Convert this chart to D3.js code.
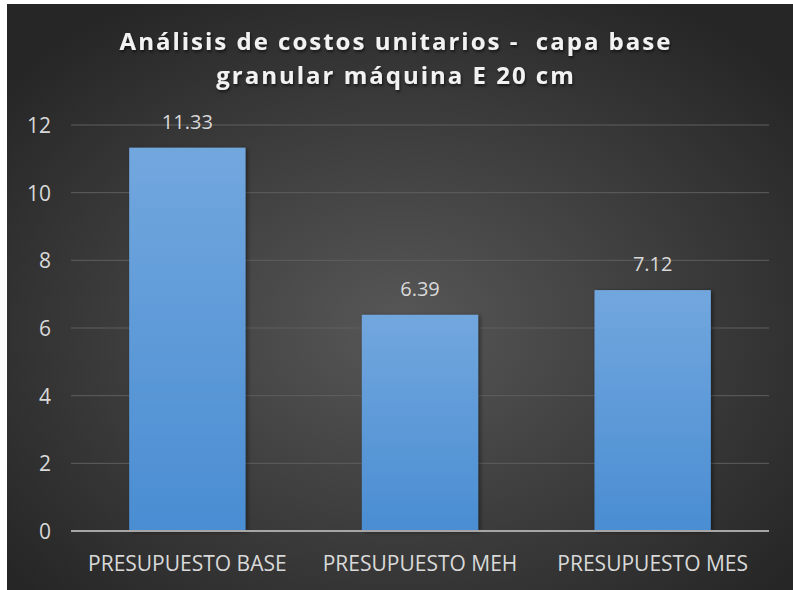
<!DOCTYPE html>
<html>
<head>
<meta charset="utf-8">
<script src="https://cdn.jsdelivr.net/npm/d3@7"></script>
<style>
  body { margin: 0; background: #fff; }
  text { font-family: "Open Sans", "Noto Sans", sans-serif; }
</style>
</head>
<body>
<div id="chart"></div>
<script>
(function(){
  var width = 793,
    height = 590;

  // data
  var categories = ["PRESUPUESTO BASE", "PRESUPUESTO MEH", "PRESUPUESTO MES"];
  var values = [11.33, 6.39, 7.12];
  var yTicks = [0, 2, 4, 6, 8, 10, 12];
  var titleLines = ["Análisis de costos unitarios -  capa base", "granular máquina E 20 cm"];

  var margin = {left: 71, right: 24, top: 125, bottom: 59};

  var svg = d3.select("#chart")
    .append("svg")
    .attr("width", width)
    .attr("height", height);

  var defs = svg.append("defs");

  // dark radial background
  var bg = defs.append("radialGradient")
    .attr("id", "bg")
    .attr("cx", "50%").attr("cy", "55%").attr("r", "65%");
  bg.append("stop").attr("offset", "0%").attr("stop-color", "#575757");
  bg.append("stop").attr("offset", "100%").attr("stop-color", "#262626");

  // bar fill, lighter at the top
  var barGrad = defs.append("linearGradient")
    .attr("id", "barGrad")
    .attr("x1", 0).attr("y1", 0).attr("x2", 0).attr("y2", 1);
  barGrad.append("stop").attr("offset", "0%").attr("stop-color", "#72a7de");
  barGrad.append("stop").attr("offset", "100%").attr("stop-color", "#4a8dd2");

  var shadow = defs.append("filter").attr("id", "shadow")
    .attr("x", "-10%").attr("y", "-10%").attr("width", "125%").attr("height", "125%");
  shadow.append("feDropShadow")
    .attr("dx", 2).attr("dy", 1).attr("stdDeviation", 2)
    .attr("flood-color", "#000").attr("flood-opacity", 0.45);

  var titleShadow = defs.append("filter").attr("id", "tshadow");
  titleShadow.append("feDropShadow")
    .attr("dx", 1).attr("dy", 2).attr("stdDeviation", 1.5)
    .attr("flood-color", "#000").attr("flood-opacity", 0.6);

  svg.append("rect")
    .attr("x", 7).attr("y", 4)
    .attr("width", width - 7).attr("height", height - 4)
    .attr("fill", "url(#bg)");

  var x = d3.scaleBand()
    .domain(categories)
    .range([margin.left, 769])
    .paddingInner(0.5)
    .paddingOuter(0.25);

  var y = d3.scaleLinear()
    .domain([0, 12])
    .range([531, 125]);

  // gridlines
  svg.append("g")
    .selectAll("line")
    .data(yTicks.filter(function(d){ return d > 0; }))
    .enter().append("line")
    .attr("x1", margin.left).attr("x2", 769)
    .attr("y1", function(d){ return y(d); })
    .attr("y2", function(d){ return y(d); })
    .attr("stroke", "#5e5e5e")
    .attr("stroke-width", 1);

  // y axis labels
  var yAxis = d3.axisLeft(y).tickValues(yTicks).tickSize(0).tickPadding(20);
  var gy = svg.append("g")
    .attr("transform", "translate(" + margin.left + ",0)")
    .call(yAxis);
  gy.select(".domain").remove();
  gy.selectAll("text")
    .attr("fill", "#d9d9d9")
    .style("font-size", "21px")
    .attr("dy", "0.36em");

  // bars
  svg.append("g")
    .selectAll("rect")
    .data(values)
    .enter().append("rect")
    .attr("x", function(d, i){ return x(categories[i]); })
    .attr("y", function(d){ return y(d); })
    .attr("width", x.bandwidth())
    .attr("height", function(d){ return y(0) - y(d); })
    .attr("fill", "url(#barGrad)")
    .attr("filter", "url(#shadow)");

  // data labels
  svg.append("g")
    .selectAll("text")
    .data(values)
    .enter().append("text")
    .attr("x", function(d, i){ return x(categories[i]) + x.bandwidth() / 2; })
    .attr("y", function(d){ return y(d) - 19; })
    .attr("text-anchor", "middle")
    .attr("fill", "#d9d9d9")
    .style("font-size", "20px")
    .text(function(d){ return d.toFixed(2); });

  // x axis
  var xAxis = d3.axisBottom(x).tickSize(0);
  var gx = svg.append("g")
    .attr("transform", "translate(0," + y(0) + ")")
    .call(xAxis);
  gx.select(".domain")
    .attr("d", "M" + margin.left + ",0H769")
    .attr("stroke", "#a6a6a6")
    .attr("stroke-width", 2);
  gx.selectAll("text")
    .attr("fill", "#d9d9d9")
    .style("font-size", "21px")
    .attr("y", 40)
    .attr("dy", 0);

  // title
  svg.append("g")
    .selectAll("text")
    .data(titleLines)
    .enter().append("text")
    .attr("x", 396)
    .attr("y", function(d, i){ return 50 + i * 34; })
    .attr("text-anchor", "middle")
    .attr("fill", "#f2f2f2")
    .attr("filter", "url(#tshadow)")
    .style("font-size", "24px")
    .style("font-weight", "bold")
    .style("letter-spacing", "2px")
    .style("white-space", "pre")
    .text(function(d){ return d; });

})();
</script>
</body>
</html>
